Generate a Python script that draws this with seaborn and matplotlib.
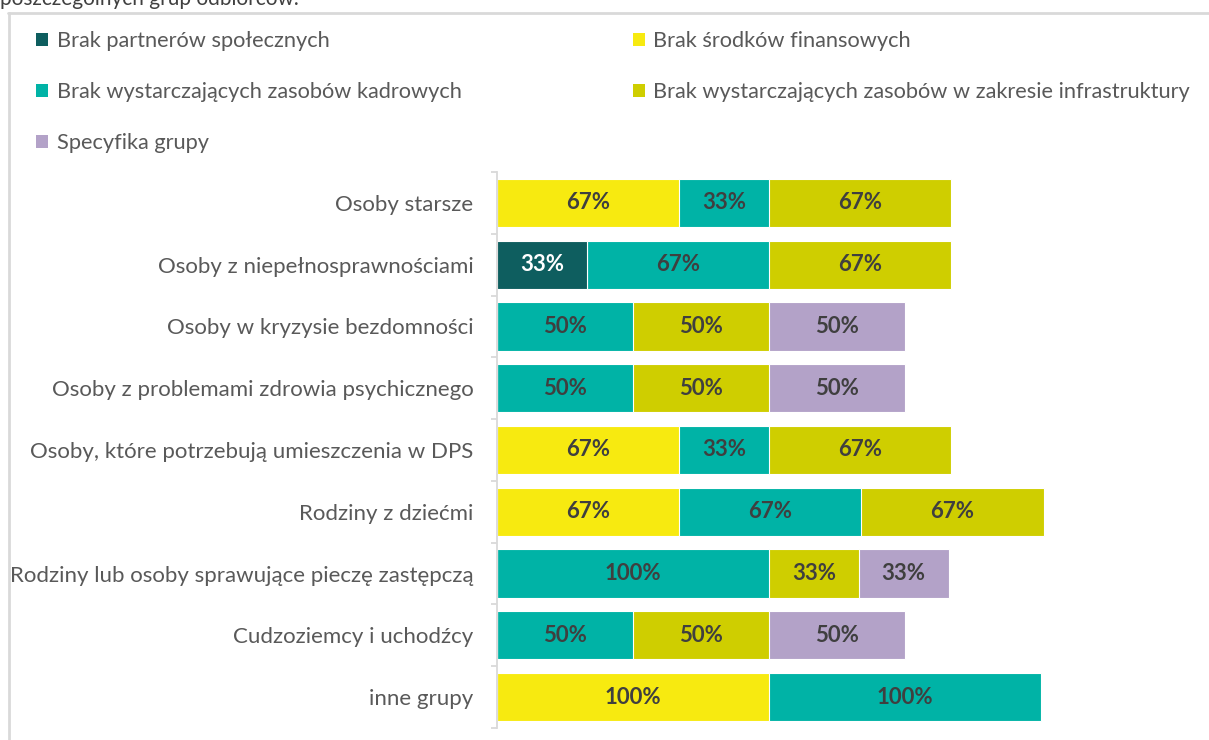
import numpy as np
import pandas as pd
import matplotlib
matplotlib.use("Agg")
import matplotlib.pyplot as plt
import seaborn as sns
from matplotlib.patches import Patch
from matplotlib.lines import Line2D
from matplotlib.ticker import FixedLocator

# Target groups (top to bottom)
categories = [
    "Osoby starsze",
    "Osoby z niepełnosprawnościami",
    "Osoby w kryzysie bezdomności",
    "Osoby z problemami zdrowia psychicznego",
    "Osoby, które potrzebują umieszczenia w DPS",
    "Rodziny z dziećmi",
    "Rodziny lub osoby sprawujące pieczę zastępczą",
    "Cudzoziemcy i uchodźcy",
    "inne grupy",
]

series_names = [
    "Brak partnerów społecznych",
    "Brak środków finansowych",
    "Brak wystarczających zasobów kadrowych",
    "Brak wystarczających zasobów w zakresie infrastruktury",
    "Specyfika grupy",
]

# Share of answers (%) per barrier
partnerzy = [0, 33, 0, 0, 0, 0, 0, 0, 0]
srodki = [67, 0, 0, 0, 67, 67, 0, 0, 100]
kadry = [33, 67, 50, 50, 33, 67, 100, 50, 100]
infrastruktura = [67, 67, 50, 50, 67, 67, 33, 50, 0]
specyfika = [0, 0, 50, 50, 0, 0, 33, 50, 0]

colors = ["#0E5E5F", "#F7EA10", "#00B3A6", "#CFCE00", "#B3A2C8"]

sns.set_theme(style="white")
plt.rcParams["font.family"] = ["Lato", "DejaVu Sans"]

W, H = 1209, 740
fig = plt.figure(figsize=(W / 100, H / 100), dpi=100)
ax = fig.add_axes([497 / W, 1 - 728 / H, 600 / W, (728 - 172) / H])

values = np.array([partnerzy, srodki, kadry, infrastruktura, specyfika])
cum = values.cumsum(axis=0)

# Stacked bars: draw cumulative totals from the last series to the first
for k in reversed(range(len(series_names))):
    df = pd.DataFrame({"kategoria": categories, "suma": cum[k]})
    sns.barplot(data=df, x="suma", y="kategoria", order=categories, orient="h",
                color=colors[k], saturation=1, width=0.78,
                edgecolor="white", linewidth=0.8, ax=ax)

for k in range(len(series_names)):
    for i, v in enumerate(values[k]):
        if v > 0:
            ax.text(cum[k][i] - v / 2, i, f"{v}%", ha="center", va="center",
                    fontsize=16, fontweight="bold",
                    color="white" if k == 0 else "#3F3F3F")

ax.set_xlim(0, 600 / 2.72)
ax.set_ylim(8.5, -0.5)
ax.set_xlabel("")
ax.set_ylabel("")
ax.set_xticks([])
for s in ["top", "right", "bottom"]:
    ax.spines[s].set_visible(False)
ax.spines["left"].set_color("#D9D9D9")
ax.spines["left"].set_linewidth(1.3)
ax.yaxis.set_minor_locator(FixedLocator(np.arange(-0.5, 9, 1)))
ax.tick_params(axis="y", which="major", length=0, pad=17, labelsize=16,
               labelcolor="#595959")
ax.tick_params(axis="y", which="minor", length=4, width=1.3, color="#D9D9D9",
               left=True)

handles = [Patch(facecolor=c, edgecolor="none") for c in colors]
order = [0, 2, 4, 1, 3]
fig.legend([handles[i] for i in order], [series_names[i] for i in order],
           ncol=2, loc="upper left", bbox_to_anchor=(36 / W, 1 - 31 / H),
           frameon=False, fontsize=15.7, handlelength=0.55, handleheight=0.55,
           handletextpad=0.4, labelspacing=1.42, columnspacing=7.85,
           labelcolor="#595959", borderpad=0, borderaxespad=0)

# Chart frame
fig.add_artist(Line2D([8 / W, 1], [1 - 13 / H, 1 - 13 / H], color="#D9D9D9",
                      lw=2, transform=fig.transFigure))
fig.add_artist(Line2D([9 / W, 9 / W], [0, 1 - 13 / H], color="#D9D9D9",
                      lw=2, transform=fig.transFigure))

fig.text(0, 1 - 5 / H, "poszczególnych grup odbiorców.", fontsize=15,
         color="#404040", va="baseline", ha="left")

fig.savefig("out.png", dpi=100)
